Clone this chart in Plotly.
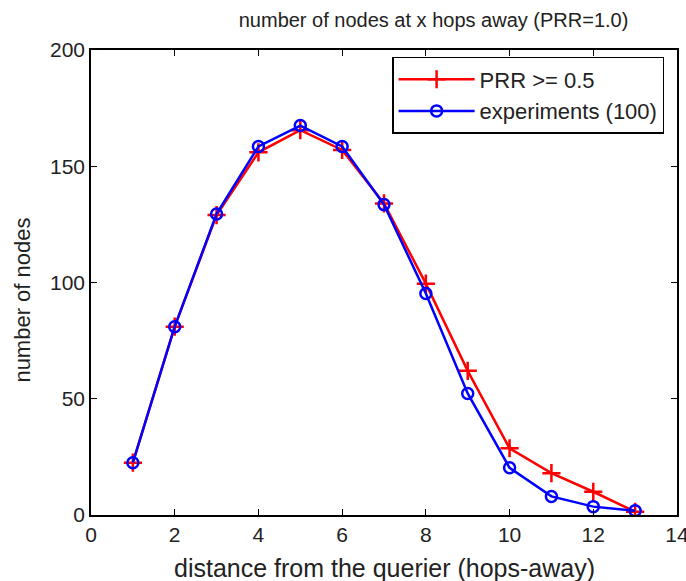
import plotly.graph_objects as go

hops = [1, 2, 3, 4, 5, 6, 7, 8, 9, 10, 11, 12, 13]
prr_vals = [22.5, 81, 129, 156, 165.5, 157, 134, 99.5, 62, 28.7, 18, 10, 1.4]
exp_vals = [22.5, 81, 129.5, 158.5, 167.5, 158.5, 133.5, 95.3, 52.3, 20.3, 8, 3.6, 1.8]

x_ticks = [0, 2, 4, 6, 8, 10, 12, 14]
y_ticks = [0, 50, 100, 150, 200]

font = "Liberation Sans, Arial, sans-serif"
txt = "#222"

fig = go.Figure()
fig.add_trace(go.Scatter(
    x=hops, y=prr_vals, mode="lines+markers", name="PRR >= 0.5",
    line=dict(color="#ff0000", width=2.5),
    marker=dict(symbol="cross-thin", size=13, color="#ff0000",
                line=dict(color="#ff0000", width=2.5)),
))
fig.add_trace(go.Scatter(
    x=hops, y=exp_vals, mode="lines+markers", name="experiments (100)",
    line=dict(color="#0000ff", width=2.5),
    marker=dict(symbol="circle-open", size=11, color="#0000ff",
                line=dict(color="#0000ff", width=2.5)),
))

axis_common = dict(
    showgrid=False, zeroline=False, showline=True, linecolor="black",
    linewidth=1.5, mirror="ticks", ticks="inside", ticklen=6,
    tickcolor="black", tickfont=dict(family=font, size=21, color=txt),
    ticklabeloverflow="allow", automargin=False,
)

fig.update_layout(
    width=686, height=581,
    margin=dict(l=91, r=9, t=50, b=66, autoexpand=False),
    paper_bgcolor="white", plot_bgcolor="white",
    title=dict(text="number of nodes at x hops away (PRR=1.0)",
               x=0.632, xanchor="center", y=0.965, yanchor="middle",
               font=dict(family=font, size=20, color=txt)),
    xaxis=dict(range=[0, 14], tickvals=x_ticks, **axis_common),
    yaxis=dict(range=[0, 200], tickvals=y_ticks, **axis_common),
    legend=dict(x=0.978, y=0.985, xanchor="right", yanchor="top",
                bgcolor="white", bordercolor="black", borderwidth=1.5,
                font=dict(family=font, size=22, color=txt),
                itemwidth=76, tracegroupgap=2),
    showlegend=True,
    annotations=[
        dict(text="distance from the querier (hops-away)",
             xref="paper", yref="paper", x=0.5, y=-0.114,
             xanchor="center", yanchor="middle", showarrow=False,
             font=dict(family=font, size=25, color=txt)),
        dict(text="number of nodes",
             xref="paper", yref="paper", x=-0.117, y=0.462,
             xanchor="center", yanchor="middle", showarrow=False,
             textangle=-90,
             font=dict(family=font, size=22, color=txt)),
    ],
)

fig.write_html("out.html")
